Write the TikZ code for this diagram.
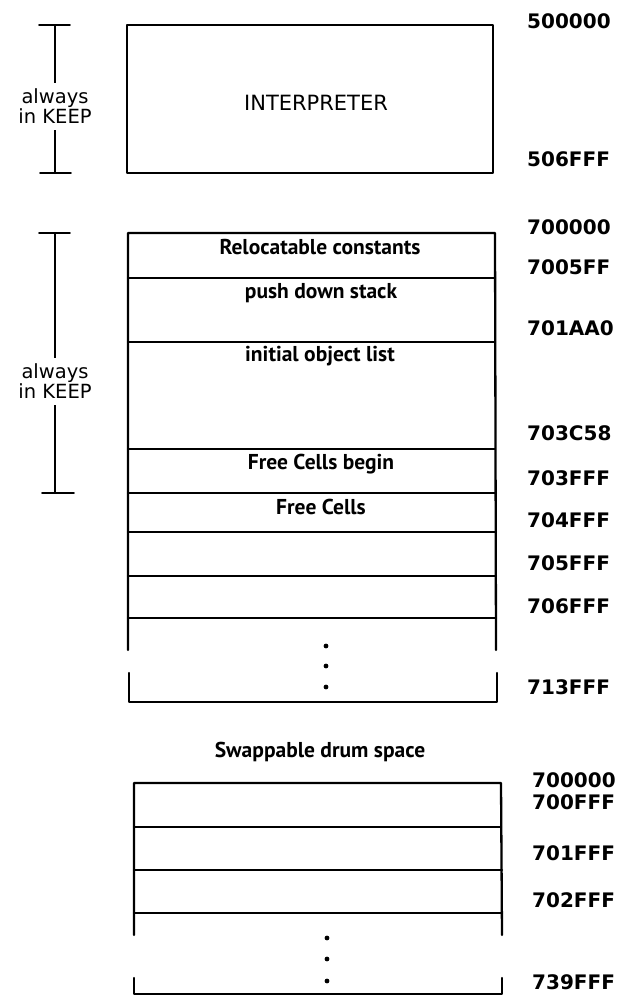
\documentclass[tikz,border=0pt]{standalone}
\usepackage{fontspec}
\setmainfont{PT Sans}
\newfontfamily\typedfont{DejaVu Sans}
\usetikzlibrary{positioning}

\begin{document}
\begin{tikzpicture}[x=1pt,y=-1pt,line cap=round,line join=round,
  memline/.style={line width=2.3pt},
  addr/.style={anchor=west,inner sep=0pt,font=\typedfont\bfseries\fontsize{20}{22}\selectfont},
  celltext/.style={inner sep=0pt,font=\bfseries\fontsize{21.5}{23}\selectfont},
  keeptext/.style={fill=white,inner xsep=1pt,inner ysep=6pt,align=center,font=\typedfont\fontsize{19.5}{20}\selectfont}]
\useasboundingbox (0,0) rectangle (619,995);
% interpreter block
\coordinate (iTL) at (127,25);
\coordinate (iBR) at (493,173);
\draw[memline] (iTL) rectangle (iBR);
\node[inner sep=0pt,font=\typedfont\fontsize{21}{23}\selectfont] (interp) at (316,103) {INTERPRETER};
\coordinate (k1a) at (55,25);
\coordinate (k1b) at (55,173);
\draw[line width=1.8pt] (k1a) -- node[keeptext,pos=0.55] (keep1) {always\\in KEEP} (k1b);
\draw[line width=1.8pt] (39,25) -- (70,25);
\draw[line width=1.8pt] (40,173) -- (71,173);
\node[addr] (a500000) at (527,21) {500000};
\node[addr] (a506FFF) at (527,159) {506FFF};
% keep block in core
\coordinate (mTL) at (128,233);
\coordinate (mTR) at (495,233);
\draw[memline] (128,650) -- (mTL) -- (mTR) -- (496,650);
\draw[memline] (129,673) -- (129,702) -- (497,702) -- (497,673);
\draw[memline] (128,278) -- (495,278);
\draw[memline] (128,342) -- (495,342);
\draw[memline] (128,449) -- (495,449);
\draw[memline] (128,493) -- (496,493);
\draw[memline] (128,532) -- (496,532);
\draw[memline] (128,576) -- (496,576);
\draw[memline] (128,618) -- (496,618);
\node[celltext] (reloc) at (320,247) {Relocatable constants};
\node[celltext] (pds) at (321,293) {push down stack};
\node[celltext] (iol) at (320,356) {initial object list};
\node[celltext] (fcb) at (321,464) {Free Cells begin};
\node[celltext] (fc) at (321,507) {Free Cells};
\fill (326,646) circle (2.4pt);
\fill (326,666) circle (2.4pt);
\fill (326,687) circle (2.4pt);
\coordinate (k2a) at (55,233);
\coordinate (k2b) at (55,493);
\draw[line width=1.8pt] (k2a) -- node[keeptext,pos=0.57] (keep2) {always\\in KEEP} (k2b);
\draw[line width=1.8pt] (39,233) -- (70,233);
\draw[line width=1.8pt] (42,493) -- (74,493);
\node[addr] (a700000) at (527,227) {700000};
\node[addr] (a7005FF) at (527,267) {7005FF};
\node[addr] (a701AA0) at (527,328) {701AA0};
\node[addr] (a703C58) at (527,433) {703C58};
\node[addr] (a703FFF) at (527,478) {703FFF};
\node[addr] (a704FFF) at (527,520) {704FFF};
\node[addr] (a705FFF) at (527,563) {705FFF};
\node[addr] (a706FFF) at (527,606) {706FFF};
\node[addr] (a713FFF) at (527,687) {713FFF};
% drum
\node[celltext] (drum) at (320,752) {Swappable drum space};
\coordinate (dTL) at (134,783);
\coordinate (dTR) at (501,783);
\draw[memline] (134,935) -- (dTL) -- (dTR) -- (502,935);
\draw[memline] (134,978) -- (134,994) -- (502,994) -- (502,978);
\draw[memline] (134,827) -- (501,827);
\draw[memline] (134,870) -- (502,870);
\draw[memline] (134,913) -- (502,913);
\fill (327,938) circle (2.4pt);
\fill (327,959) circle (2.4pt);
\fill (327,981) circle (2.4pt);
\node[addr] (b700000) at (532,780) {700000};
\node[addr] (b700FFF) at (532,802) {700FFF};
\node[addr] (b701FFF) at (532,853) {701FFF};
\node[addr] (b702FFF) at (532,900) {702FFF};
\node[addr] (b739FFF) at (532,982) {739FFF};
\end{tikzpicture}
\end{document}
